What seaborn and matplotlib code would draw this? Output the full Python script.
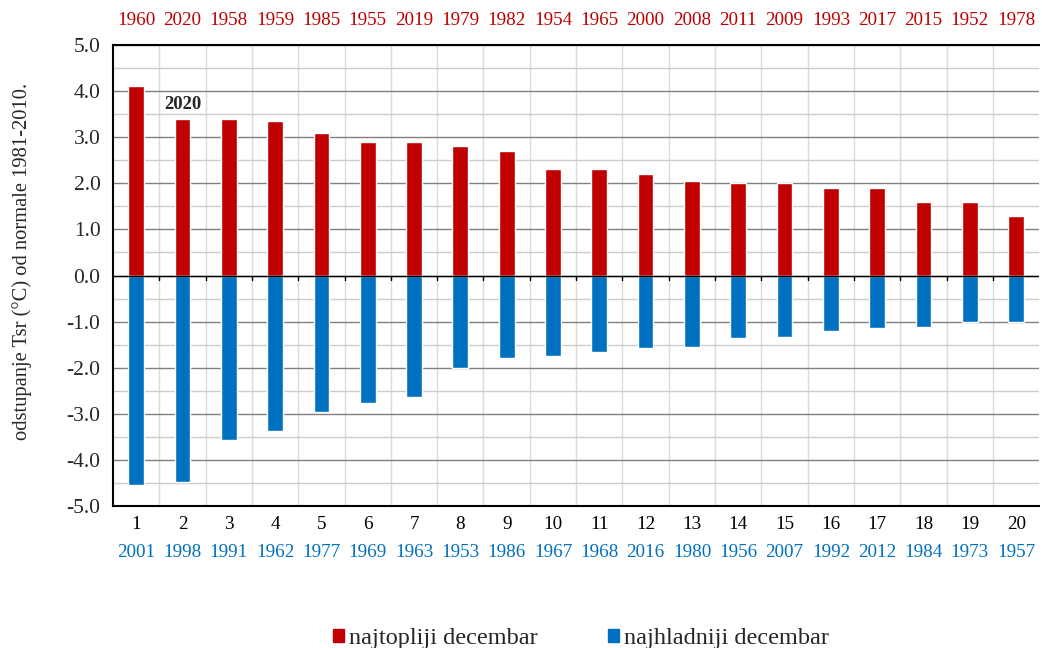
import matplotlib
matplotlib.use("Agg")
import matplotlib.pyplot as plt
import matplotlib.transforms as mtransforms
from matplotlib.ticker import MultipleLocator
from matplotlib.patches import Patch
import seaborn as sns
import pandas as pd

# rank of the December (1 = most extreme)
ranks = list(range(1, 21))

# warmest Decembers: year and anomaly
warm_years = [1960, 2020, 1958, 1959, 1985, 1955, 2019, 1979, 1982, 1954,
              1965, 2000, 2008, 2011, 2009, 1993, 2017, 2015, 1952, 1978]
warm_values = [4.1, 3.4, 3.4, 3.35, 3.1, 2.9, 2.9, 2.8, 2.7, 2.3,
               2.3, 2.2, 2.05, 2.0, 2.0, 1.9, 1.9, 1.6, 1.6, 1.3]

# coldest Decembers: year and anomaly
cold_years = [2001, 1998, 1991, 1962, 1977, 1969, 1963, 1953, 1986, 1967,
              1968, 2016, 1980, 1956, 2007, 1992, 2012, 1984, 1973, 1957]
cold_values = [-4.55, -4.47, -3.57, -3.38, -2.96, -2.77, -2.63, -2.01, -1.78, -1.74,
               -1.65, -1.57, -1.56, -1.35, -1.33, -1.21, -1.14, -1.12, -1.0, -1.0]

RED = "#C00000"
BLUE = "#0070C0"
SERIF = ["Liberation Serif", "DejaVu Serif"]

df = pd.concat([
    pd.DataFrame({"rank": ranks, "value": warm_values, "series": "najtopliji decembar"}),
    pd.DataFrame({"rank": ranks, "value": cold_values, "series": "najhladniji decembar"}),
], ignore_index=True)

sns.set_theme(style="white")
plt.rcParams["font.family"] = SERIF

fig = plt.figure(figsize=(10.42, 6.48), dpi=100)
ax = fig.add_axes([0.1084, 0.219, 0.889, 0.7116])

# grid first so bars sit on top
ax.set_ylim(-5, 5)
ax.set_xlim(-0.5, 19.5)
ax.yaxis.set_major_locator(MultipleLocator(1.0))
ax.yaxis.set_minor_locator(MultipleLocator(0.5))
ax.grid(which="major", axis="y", color="#808080", lw=1.0, zorder=0)
ax.grid(which="minor", axis="y", color="#cccccc", lw=1.0, zorder=0)
for b in range(1, 20):
    ax.axvline(b - 0.5, color="#dadada", lw=1.0, zorder=0)
ax.set_axisbelow(True)

sns.barplot(data=df, x="rank", y="value", hue="series", dodge=False,
            palette={"najtopliji decembar": RED, "najhladniji decembar": BLUE},
            width=0.34, ax=ax, legend=False, zorder=2, saturation=1)
ax.set_ylim(-5, 5)
ax.set_xlim(-0.5, 19.5)

# zero line with category boundary ticks
ax.axhline(0, color="black", lw=1.0, zorder=3)
for b in range(1, 20):
    ax.plot([b - 0.5, b - 0.5], [0, -0.1], color="black", lw=1.0, zorder=3)

for s in ["left", "top", "bottom"]:
    ax.spines[s].set_color("black")
    ax.spines[s].set_linewidth(1.5)
ax.spines["right"].set_visible(False)

ax.tick_params(axis="y", which="major", direction="out", length=6, width=1,
               color="black", labelsize=15.5, pad=3)
ax.tick_params(axis="y", which="minor", direction="out", length=6, width=1, color="black")
ax.set_yticklabels([f"{v:.1f}" for v in ax.get_yticks()])
ax.tick_params(axis="x", length=0)
ax.set_xticks([])
ax.set_xlabel("")
ax.set_ylabel("odstupanje Tsr (\u00b0C) od normale 1981-2010.", fontsize=14.75)
ax.yaxis.set_label_coords(-0.087, 0.53)

# rank numbers and years around the plot
trans = mtransforms.blended_transform_factory(ax.transData, ax.transAxes)
for i, r in enumerate(ranks):
    ax.text(i, 1.052, str(warm_years[i]), color=RED, fontsize=13.8, ha="center",
            va="center", transform=trans)
    ax.text(i, -0.04, str(r), color="black", fontsize=13.8, ha="center",
            va="center", transform=trans)
    ax.text(i, -0.1, str(cold_years[i]), color=BLUE, fontsize=13.8, ha="center",
            va="center", transform=trans)

ax.text(1, 3.7, "2020", fontsize=13.5, fontweight="bold", ha="center", va="center")

handles = [Patch(color=RED, label="najtopliji decembar"),
           Patch(color=BLUE, label="najhladniji decembar")]
fig.legend(handles=handles, loc="lower center", bbox_to_anchor=(0.5576, -0.035), ncol=2,
           frameon=False, fontsize=17.5, handlelength=0.45, handleheight=0.45,
           handletextpad=0.2, columnspacing=2.9)

fig.savefig("out.png", dpi=100)
